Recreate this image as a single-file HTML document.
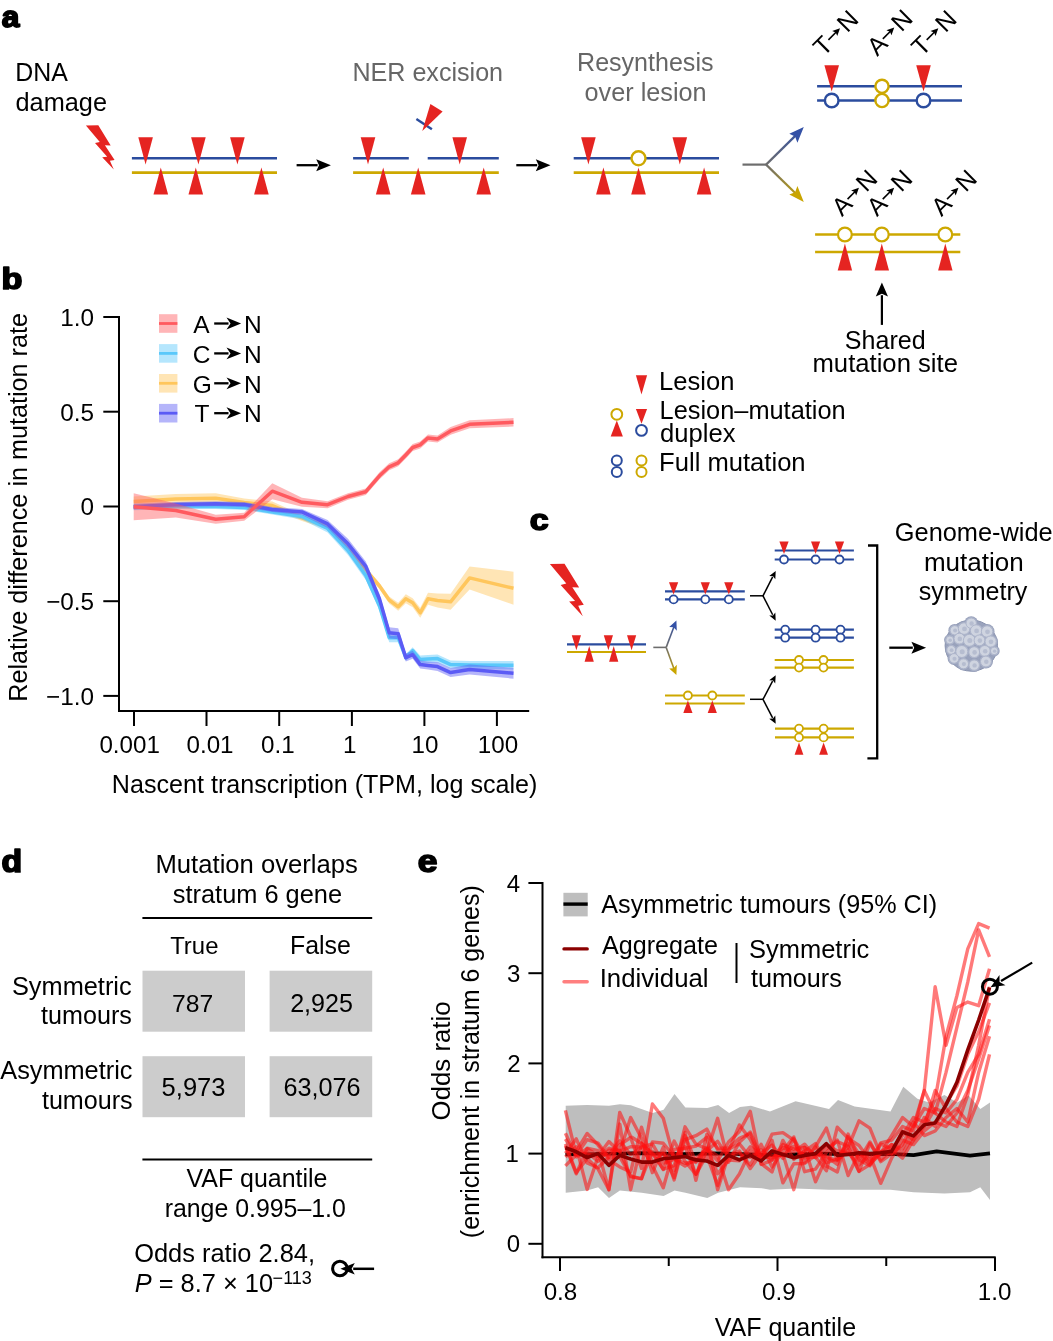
<!DOCTYPE html><html><head><meta charset="utf-8"><style>html,body{margin:0;padding:0;background:#fff;overflow:hidden}svg{display:block;will-change:transform}text{font-family:"Liberation Sans",sans-serif}</style></head><body>
<svg width="1053" height="1341" viewBox="0 0 1053 1341">
<defs><linearGradient id="gb" gradientUnits="userSpaceOnUse" x1="766" y1="164.6" x2="804" y2="127"><stop offset="0" stop-color="#6d6d6d"/><stop offset="1" stop-color="#2f4fa8"/></linearGradient><linearGradient id="gy" gradientUnits="userSpaceOnUse" x1="766" y1="164.6" x2="804" y2="201"><stop offset="0" stop-color="#6d6d6d"/><stop offset="1" stop-color="#c9a500"/></linearGradient><linearGradient id="gb2" gradientUnits="userSpaceOnUse" x1="666" y1="647" x2="676" y2="620"><stop offset="0" stop-color="#6d6d6d"/><stop offset="1" stop-color="#2f4fa8"/></linearGradient><linearGradient id="gy2" gradientUnits="userSpaceOnUse" x1="666" y1="647" x2="676" y2="675"><stop offset="0" stop-color="#6d6d6d"/><stop offset="1" stop-color="#c9a500"/></linearGradient></defs>
<rect width="1053" height="1341" fill="#fff"/>
<g transform="translate(1.63,27.35) scale(1,0.9572)"><text x="0" y="0" font-size="31.65" font-weight="bold" stroke="#000" stroke-width="1.9" stroke-linejoin="round">a</text></g>
<text x="15.26" y="80.7" font-size="24.91" fill="#000" >DNA</text>
<text x="15.54" y="110.6" font-size="25.31" fill="#000" >damage</text>
<polygon points="85.9,125.4 98.3,125.2 110.7,145.4 104.9,145.2 114.6,159.9 109.9,160.7 113.8,169.6 102.2,157.2 107.2,156.8 95,143.1 99.8,141.9" fill="#e52421"/>
<line x1="131.9" y1="158.3" x2="277" y2="158.3" stroke="#2b4c9e" stroke-width="2.6" stroke-linecap="butt" />
<line x1="131.9" y1="172.6" x2="277" y2="172.6" stroke="#cda800" stroke-width="2.6" stroke-linecap="butt" />
<polygon points="138.3,137.3 152.9,137.3 145.6,164.5" fill="#e52421"/>
<polygon points="191.1,137.3 205.7,137.3 198.4,164.5" fill="#e52421"/>
<polygon points="230.1,137.3 244.7,137.3 237.4,164.5" fill="#e52421"/>
<polygon points="160.8,167.5 168.1,194.6 153.5,194.6" fill="#e52421"/>
<polygon points="195.8,167.5 203.1,194.6 188.5,194.6" fill="#e52421"/>
<polygon points="261.4,167.5 268.7,194.6 254.1,194.6" fill="#e52421"/>
<line x1="296.6" y1="165.2" x2="317.6" y2="165.2" stroke="#000" stroke-width="2.3" stroke-linecap="butt" />
<polygon points="330.9,165.2 316.2,171.2 319,165.2 316.2,159.2" fill="#000" />
<line x1="353.1" y1="158.3" x2="408.8" y2="158.3" stroke="#2b4c9e" stroke-width="2.6" stroke-linecap="butt" />
<line x1="427.7" y1="158.3" x2="498.8" y2="158.3" stroke="#2b4c9e" stroke-width="2.6" stroke-linecap="butt" />
<line x1="353.1" y1="172.6" x2="498.8" y2="172.6" stroke="#cda800" stroke-width="2.6" stroke-linecap="butt" />
<polygon points="360.7,137.3 375.3,137.3 368,164.5" fill="#e52421"/>
<polygon points="452.4,137.3 467,137.3 459.7,164.5" fill="#e52421"/>
<polygon points="383.2,167.5 390.5,194.6 375.9,194.6" fill="#e52421"/>
<polygon points="418.2,167.5 425.5,194.6 410.9,194.6" fill="#e52421"/>
<polygon points="483.7,167.5 491,194.6 476.4,194.6" fill="#e52421"/>
<line x1="416.4" y1="119" x2="431.9" y2="129.2" stroke="#2b4c9e" stroke-width="2.4" stroke-linecap="butt" />
<polygon points="430.4,104.1 442.6,111.4 422.3,131" fill="#e52421"/>
<line x1="516.3" y1="165.2" x2="537.2" y2="165.2" stroke="#000" stroke-width="2.3" stroke-linecap="butt" />
<polygon points="550.5,165.2 535.8,171.2 538.6,165.2 535.8,159.2" fill="#000" />
<line x1="573.7" y1="158.3" x2="719" y2="158.3" stroke="#2b4c9e" stroke-width="2.6" stroke-linecap="butt" />
<line x1="573.7" y1="172.6" x2="719" y2="172.6" stroke="#cda800" stroke-width="2.6" stroke-linecap="butt" />
<polygon points="581.1,137.3 595.7,137.3 588.4,164.5" fill="#e52421"/>
<polygon points="672.5,137.3 687.1,137.3 679.8,164.5" fill="#e52421"/>
<polygon points="603.4,167.5 610.7,194.6 596.1,194.6" fill="#e52421"/>
<polygon points="638.5,167.5 645.8,194.6 631.2,194.6" fill="#e52421"/>
<polygon points="704.1,167.5 711.4,194.6 696.8,194.6" fill="#e52421"/>
<circle cx="638.5" cy="158.3" r="7" fill="#fff" stroke="#cda800" stroke-width="2.4"/>
<text x="352.44" y="81.2" font-size="25.1" fill="#666" >NER excision</text>
<text x="577.05" y="71.1" font-size="25.05" fill="#666" >Resynthesis</text>
<text x="584.54" y="100.7" font-size="25.24" fill="#666" >over lesion</text>
<line x1="742.5" y1="164.6" x2="766.8" y2="164.6" stroke="#6d6d6d" stroke-width="2.2" stroke-linecap="butt" />
<path d="M766.1,164.6 L796.5,134.6" stroke="url(#gb)" stroke-width="2.2" fill="none"/>
<polygon points="803.8,127 797.4,142.8 795.1,136.4 789.3,133.8" fill="#3451a6"/>
<path d="M766.1,164.6 L796.5,194.2" stroke="url(#gy)" stroke-width="2.2" fill="none"/>
<polygon points="803.8,201.9 789.3,194.5 795.1,192.3 797.4,186.1" fill="#c9a500"/>
<line x1="817.1" y1="86.3" x2="962" y2="86.3" stroke="#2b4c9e" stroke-width="2.6" stroke-linecap="butt" />
<line x1="817.1" y1="100.5" x2="962" y2="100.5" stroke="#2b4c9e" stroke-width="2.6" stroke-linecap="butt" />
<polygon points="824.4,65.3 839,65.3 831.7,91.5" fill="#e52421"/>
<circle cx="831.7" cy="100.5" r="6.8" fill="#fff" stroke="#2b4c9e" stroke-width="2.4"/>
<polygon points="916.2,65.3 930.8,65.3 923.5,91.5" fill="#e52421"/>
<circle cx="923.5" cy="100.5" r="6.8" fill="#fff" stroke="#2b4c9e" stroke-width="2.4"/>
<circle cx="882" cy="86.3" r="6.6" fill="#fff" stroke="#cda800" stroke-width="2.4"/>
<circle cx="882" cy="100.5" r="6.6" fill="#fff" stroke="#cda800" stroke-width="2.4"/>
<line x1="815.1" y1="234.5" x2="960.3" y2="234.5" stroke="#cda800" stroke-width="2.6" stroke-linecap="butt" />
<line x1="815.1" y1="252" x2="960.3" y2="252" stroke="#cda800" stroke-width="2.6" stroke-linecap="butt" />
<circle cx="844.9" cy="234.5" r="6.9" fill="#fff" stroke="#cda800" stroke-width="2.2"/>
<polygon points="844.9,243.6 852.1,270.4 837.7,270.4" fill="#e52421"/>
<circle cx="881.8" cy="234.5" r="6.9" fill="#fff" stroke="#cda800" stroke-width="2.2"/>
<polygon points="881.8,243.6 889,270.4 874.6,270.4" fill="#e52421"/>
<circle cx="945.3" cy="234.5" r="6.9" fill="#fff" stroke="#cda800" stroke-width="2.2"/>
<polygon points="945.3,243.6 952.5,270.4 938.1,270.4" fill="#e52421"/>
<g transform="translate(823.4,57.3) rotate(-45)">
<text x="0" y="0" font-size="25">T</text>
<line x1="15.9" y1="-8.8" x2="27.3" y2="-8.8" stroke="#000" stroke-width="1.6"/>
<polygon points="32.3,-8.8 24.8,-12.4 26.3,-8.8 24.8,-5.200000000000001" fill="#000"/>
<text x="33.6" y="0" font-size="25">N</text>
</g>
<g transform="translate(877.2,57) rotate(-45)">
<text x="0" y="0" font-size="25">A</text>
<line x1="16.8" y1="-8.8" x2="27.9" y2="-8.8" stroke="#000" stroke-width="1.6"/>
<polygon points="32.9,-8.8 25.4,-12.4 26.9,-8.8 25.4,-5.200000000000001" fill="#000"/>
<text x="34.3" y="0" font-size="25">N</text>
</g>
<g transform="translate(921.7,57.3) rotate(-45)">
<text x="0" y="0" font-size="25">T</text>
<line x1="15.9" y1="-8.8" x2="27.3" y2="-8.8" stroke="#000" stroke-width="1.6"/>
<polygon points="32.3,-8.8 24.8,-12.4 26.3,-8.8 24.8,-5.200000000000001" fill="#000"/>
<text x="33.6" y="0" font-size="25">N</text>
</g>
<g transform="translate(841.9,217.2) rotate(-45)">
<text x="0" y="0" font-size="25">A</text>
<line x1="16.8" y1="-8.8" x2="27.9" y2="-8.8" stroke="#000" stroke-width="1.6"/>
<polygon points="32.9,-8.8 25.4,-12.4 26.9,-8.8 25.4,-5.200000000000001" fill="#000"/>
<text x="34.3" y="0" font-size="25">N</text>
</g>
<g transform="translate(877.1,217.2) rotate(-45)">
<text x="0" y="0" font-size="25">A</text>
<line x1="16.8" y1="-8.8" x2="27.9" y2="-8.8" stroke="#000" stroke-width="1.6"/>
<polygon points="32.9,-8.8 25.4,-12.4 26.9,-8.8 25.4,-5.200000000000001" fill="#000"/>
<text x="34.3" y="0" font-size="25">N</text>
</g>
<g transform="translate(941.4,217.2) rotate(-45)">
<text x="0" y="0" font-size="25">A</text>
<line x1="16.8" y1="-8.8" x2="27.9" y2="-8.8" stroke="#000" stroke-width="1.6"/>
<polygon points="32.9,-8.8 25.4,-12.4 26.9,-8.8 25.4,-5.200000000000001" fill="#000"/>
<text x="34.3" y="0" font-size="25">N</text>
</g>
<line x1="881.9" y1="324.9" x2="881.9" y2="295.2" stroke="#000" stroke-width="2.2" stroke-linecap="butt" />
<polygon points="881.9,282.6 888,296.6 881.9,293.8 875.8,296.6" fill="#000" />
<text x="844.87" y="348.6" font-size="25.04" fill="#000" >Shared</text>
<text x="812.51" y="371.7" font-size="25.67" fill="#000" >mutation site</text>
<polygon points="635.9,375.3 647.1,375.3 641.5,394.6" fill="#e52421"/>
<text x="659.1" y="389.6" font-size="25.56" fill="#000" >Lesion</text>
<circle cx="616.8" cy="414.3" r="5.4" fill="#fff" stroke="#cda800" stroke-width="2.0"/>
<polygon points="616.8,420.5 622.9,436.5 610.7,436.5" fill="#e52421"/>
<polygon points="635.9,408.9 647.1,408.9 641.5,423.7" fill="#e52421"/>
<circle cx="641.5" cy="430.4" r="5.4" fill="#fff" stroke="#2b4c9e" stroke-width="2.0"/>
<text x="659.62" y="418.5" font-size="25.35" fill="#000" >Lesion–mutation</text>
<text x="660.12" y="442.3" font-size="25.6" fill="#000" >duplex</text>
<circle cx="616.8" cy="460.5" r="5" fill="#fff" stroke="#2b4c9e" stroke-width="2.0"/>
<circle cx="616.8" cy="472" r="5" fill="#fff" stroke="#2b4c9e" stroke-width="2.0"/>
<circle cx="641.5" cy="460.5" r="5" fill="#fff" stroke="#cda800" stroke-width="2.0"/>
<circle cx="641.5" cy="472" r="5" fill="#fff" stroke="#cda800" stroke-width="2.0"/>
<text x="659.1" y="470.8" font-size="25.6" fill="#000" >Full mutation</text>
<g transform="translate(1.42,289.05) scale(1,0.8857)"><text x="0" y="0" font-size="34.26" font-weight="bold" stroke="#000" stroke-width="1.9" stroke-linejoin="round">b</text></g>
<line x1="119" y1="316" x2="119" y2="712" stroke="#000" stroke-width="2" stroke-linecap="butt" />
<line x1="118" y1="711" x2="529.2" y2="711" stroke="#000" stroke-width="2" stroke-linecap="butt" />
<line x1="103.3" y1="317" x2="119" y2="317" stroke="#000" stroke-width="2" stroke-linecap="butt" />
<line x1="103.3" y1="411.7" x2="119" y2="411.7" stroke="#000" stroke-width="2" stroke-linecap="butt" />
<line x1="103.3" y1="506.5" x2="119" y2="506.5" stroke="#000" stroke-width="2" stroke-linecap="butt" />
<line x1="103.3" y1="601.2" x2="119" y2="601.2" stroke="#000" stroke-width="2" stroke-linecap="butt" />
<line x1="103.3" y1="695.9" x2="119" y2="695.9" stroke="#000" stroke-width="2" stroke-linecap="butt" />
<text x="60.25" y="325.9" font-size="24.3" fill="#000">1.0</text>
<text x="60.32" y="420.7" font-size="24.3" fill="#000">0.5</text>
<text x="80.51" y="515.4" font-size="24.3" fill="#000">0</text>
<text x="46.13" y="610.3" font-size="24.3" fill="#000">−0.5</text>
<text x="46.06" y="704.9" font-size="24.3" fill="#000">−1.0</text>
<line x1="134" y1="711" x2="134" y2="726" stroke="#000" stroke-width="2" stroke-linecap="butt" />
<line x1="206.5" y1="711" x2="206.5" y2="726" stroke="#000" stroke-width="2" stroke-linecap="butt" />
<line x1="279.2" y1="711" x2="279.2" y2="726" stroke="#000" stroke-width="2" stroke-linecap="butt" />
<line x1="351.9" y1="711" x2="351.9" y2="726" stroke="#000" stroke-width="2" stroke-linecap="butt" />
<line x1="424.4" y1="711" x2="424.4" y2="726" stroke="#000" stroke-width="2" stroke-linecap="butt" />
<line x1="496.9" y1="711" x2="496.9" y2="726" stroke="#000" stroke-width="2" stroke-linecap="butt" />
<text x="99.38" y="752.6" font-size="24.2" fill="#000">0.001</text>
<text x="186.46" y="752.6" font-size="24.2" fill="#000">0.01</text>
<text x="260.99" y="752.6" font-size="24.2" fill="#000">0.1</text>
<text x="342.88" y="752.6" font-size="24.2" fill="#000">1</text>
<text x="411.44" y="752.6" font-size="24.2" fill="#000">10</text>
<text x="477.76" y="752.6" font-size="24.2" fill="#000">100</text>
<text x="111.84" y="792.6" font-size="25.12" fill="#000" >Nascent transcription (TPM, log scale)</text>
<text x="0" y="0" font-size="25.2" text-anchor="middle" transform="translate(27,507.4) rotate(-90)">Relative difference in mutation rate</text>
<polygon points="133.7,496.5 175.8,494 215.7,493.3 244.2,498.4 272.3,501.5 302,514.9 327.6,523.5 348,545 365.8,567 379.5,583 389.2,596.5 398.2,602.8 405.8,594.3 412.7,598.3 420.2,607.8 428,592.8 437.5,593.5 450.6,593.8 469.6,566.4 513.5,571.8 513.5,604.8 469.6,589.4 450.6,609.8 437.5,607.5 428,604.8 420.2,617.8 412.7,607.3 405.8,603.3 398.2,610.8 389.2,603.5 379.5,589 365.8,573 348,551 327.6,529.5 302,520.9 272.3,509.5 244.2,506.4 215.7,503.3 175.8,504 133.7,506.5" fill="#ffc65c" fill-opacity="0.45"/>
<polyline points="133.7,501.5 175.8,499 215.7,498.3 244.2,502.4 272.3,505.5 302,517.9 327.6,526.5 348,548 365.8,570 379.5,586 389.2,600 398.2,606.8 405.8,598.8 412.7,602.8 420.2,612.8 428,598.8 437.5,600.5 450.6,601.8 469.6,577.9 513.5,588.3" fill="none" stroke="#ffc65c" stroke-width="3.5" stroke-linejoin="round"/>
<polygon points="133.7,504.2 175.8,504.1 215.7,503.9 244.2,504.9 272.3,509.5 302,513.4 327.6,524.5 348,546 365.8,571 379.5,601.5 389.2,633.2 398.2,633.2 405.8,654.1 412.7,647.2 420.2,655.6 428,655 437.5,654.6 450.6,660.6 469.6,661 513.5,661 513.5,669.4 469.6,669 450.6,668.6 437.5,662.6 428,663 420.2,663.6 412.7,654.2 405.8,661.1 398.2,642.2 389.2,642.2 379.5,610.5 365.8,580 348,555 327.6,532.5 302,519.4 272.3,514.5 244.2,509.9 215.7,508.9 175.8,509.1 133.7,510.2" fill="#5ac8fa" fill-opacity="0.45"/>
<polyline points="133.7,507.2 175.8,506.6 215.7,506.4 244.2,507.4 272.3,512 302,516.4 327.6,528.5 348,550.5 365.8,575.5 379.5,606 389.2,637.7 398.2,637.7 405.8,657.6 412.7,650.7 420.2,659.6 428,659 437.5,658.6 450.6,664.6 469.6,665 513.5,665.2" fill="none" stroke="#5ac8fa" stroke-width="3.5" stroke-linejoin="round"/>
<polygon points="133.7,503.7 175.8,501.9 215.7,501.2 244.2,501.9 272.3,507 302,508.9 327.6,519.9 348,538.8 365.8,561.4 379.5,594 389.2,627.2 398.2,628.2 405.8,653.6 412.7,650.7 420.2,660.6 428,661.5 437.5,662.1 450.6,668.1 469.6,664.6 513.5,667.7 513.5,678.7 469.6,674.6 450.6,677.1 437.5,671.1 428,669.5 420.2,668.6 412.7,658.7 405.8,661.6 398.2,639.2 389.2,638.2 379.5,604 365.8,571.4 348,548.8 327.6,527.9 302,514.9 272.3,512 244.2,506.9 215.7,506.2 175.8,506.9 133.7,509.7" fill="#5b5bf5" fill-opacity="0.45"/>
<polyline points="133.7,506.7 175.8,504.4 215.7,503.7 244.2,504.4 272.3,509.5 302,511.9 327.6,523.9 348,543.8 365.8,566.4 379.5,599 389.2,632.7 398.2,633.7 405.8,657.6 412.7,654.7 420.2,664.6 428,665.5 437.5,666.6 450.6,672.6 469.6,669.6 513.5,673.2" fill="none" stroke="#5b5bf5" stroke-width="3.5" stroke-linejoin="round"/>
<polygon points="133.7,493.2 175.8,503.5 215.7,514.7 244.2,512.7 272.3,483.2 302,497.8 327.6,501.2 348,493.3 365.8,488.5 379.5,472.3 389.2,463.3 398.2,459.3 405.8,451.5 412.7,444 420.2,441.4 428,434.4 437.5,435.4 450.6,427.1 469.6,420.3 513.5,418.1 513.5,426.5 469.6,428.3 450.6,434.7 437.5,442.4 428,441.4 420.2,448.4 412.7,451 405.8,458.5 398.2,466.3 389.2,470.3 379.5,479.3 365.8,494.9 348,499.7 327.6,508.2 302,506.8 272.3,499.2 244.2,520.7 215.7,523.7 175.8,517.5 133.7,520.2" fill="#ff5a5f" fill-opacity="0.45"/>
<polyline points="133.7,506.7 175.8,510.5 215.7,519.2 244.2,516.7 272.3,491.2 302,502.3 327.6,504.7 348,496.5 365.8,491.7 379.5,475.8 389.2,466.8 398.2,462.8 405.8,455 412.7,447.5 420.2,444.9 428,437.9 437.5,438.9 450.6,430.9 469.6,424.3 513.5,422.3" fill="none" stroke="#ff5a5f" stroke-width="3.5" stroke-linejoin="round"/>
<rect x="159" y="314.2" width="18.4" height="18.6" fill="#ff5a5f" fill-opacity="0.45"/>
<line x1="159" y1="323.5" x2="177.4" y2="323.5" stroke="#ff5a5f" stroke-width="2.8" stroke-linecap="butt" />
<text x="193.15" y="332.7" font-size="24.5" fill="#000">A</text>
<line x1="214.2" y1="323.5" x2="228.5" y2="323.5" stroke="#000" stroke-width="2.3" stroke-linecap="butt" />
<polygon points="241.1,323.5 226.5,329.4 230.5,323.5 226.5,317.6" fill="#000" />
<text x="243.99" y="332.7" font-size="24.5" fill="#000">N</text>
<rect x="159" y="344.1" width="18.4" height="18.6" fill="#5ac8fa" fill-opacity="0.45"/>
<line x1="159" y1="353.4" x2="177.4" y2="353.4" stroke="#5ac8fa" stroke-width="2.8" stroke-linecap="butt" />
<text x="192.68" y="362.6" font-size="24.5" fill="#000">C</text>
<line x1="214.2" y1="353.4" x2="228.5" y2="353.4" stroke="#000" stroke-width="2.3" stroke-linecap="butt" />
<polygon points="241.1,353.4 226.5,359.3 230.5,353.4 226.5,347.5" fill="#000" />
<text x="243.99" y="362.6" font-size="24.5" fill="#000">N</text>
<rect x="159" y="374" width="18.4" height="18.6" fill="#ffc65c" fill-opacity="0.45"/>
<line x1="159" y1="383.3" x2="177.4" y2="383.3" stroke="#ffc65c" stroke-width="2.8" stroke-linecap="butt" />
<text x="192.68" y="392.5" font-size="24.5" fill="#000">G</text>
<line x1="214.2" y1="383.3" x2="228.5" y2="383.3" stroke="#000" stroke-width="2.3" stroke-linecap="butt" />
<polygon points="241.1,383.3 226.5,389.2 230.5,383.3 226.5,377.4" fill="#000" />
<text x="243.99" y="392.5" font-size="24.5" fill="#000">N</text>
<rect x="159" y="403.9" width="18.4" height="18.6" fill="#5b5bf5" fill-opacity="0.45"/>
<line x1="159" y1="413.2" x2="177.4" y2="413.2" stroke="#5b5bf5" stroke-width="2.8" stroke-linecap="butt" />
<text x="194.46" y="422.4" font-size="24.5" fill="#000">T</text>
<line x1="214.2" y1="413.2" x2="228.5" y2="413.2" stroke="#000" stroke-width="2.3" stroke-linecap="butt" />
<polygon points="241.1,413.2 226.5,419.1 230.5,413.2 226.5,407.3" fill="#000" />
<text x="243.99" y="422.4" font-size="24.5" fill="#000">N</text>
<g transform="translate(529.72,530.15) scale(1,0.8798)"><text x="0" y="0" font-size="34.02" font-weight="bold" stroke="#000" stroke-width="1.9" stroke-linejoin="round">c</text></g>
<polygon points="549.9,564 564.53,563.76 579.16,587.6 572.32,587.36 583.77,604.71 578.22,605.65 582.82,616.16 569.13,601.52 575.03,601.05 560.64,584.89 566.3,583.47" fill="#e52421"/>
<line x1="567" y1="644.3" x2="646" y2="644.3" stroke="#2b4c9e" stroke-width="2.2" stroke-linecap="butt" />
<line x1="567" y1="652" x2="646" y2="652" stroke="#cda800" stroke-width="2.2" stroke-linecap="butt" />
<polygon points="571.8,635.3 581,635.3 576.4,650.3" fill="#e52421"/>
<polygon points="603.8,635.3 613,635.3 608.4,650.3" fill="#e52421"/>
<polygon points="627,635.3 636.2,635.3 631.6,650.3" fill="#e52421"/>
<polygon points="589.2,646 593.8,661.8 584.6,661.8" fill="#e52421"/>
<polygon points="613.7,646 618.3,661.8 609.1,661.8" fill="#e52421"/>
<line x1="653.3" y1="647.4" x2="666.2" y2="647.4" stroke="#6d6d6d" stroke-width="1.6" stroke-linecap="butt" />
<path d="M666.2,647.4 L674.6,625" stroke="url(#gb2)" stroke-width="1.6" fill="none"/>
<polygon points="676.4,620.4 676.8,630.8 673.6,627.3 669.2,627.1" fill="#3451a6"/>
<path d="M666.2,647.4 L674.6,670.5" stroke="url(#gy2)" stroke-width="1.6" fill="none"/>
<polygon points="676.4,675.1 669.2,668.4 673.6,668.2 676.8,664.7" fill="#c9a500"/>
<line x1="665" y1="591.4" x2="744.8" y2="591.4" stroke="#2b4c9e" stroke-width="2.2" stroke-linecap="butt" />
<line x1="665" y1="599.4" x2="744.8" y2="599.4" stroke="#2b4c9e" stroke-width="2.2" stroke-linecap="butt" />
<polygon points="669,582.3 678.2,582.3 673.6,594.5" fill="#e52421"/>
<circle cx="673.6" cy="599.4" r="4" fill="#fff" stroke="#2b4c9e" stroke-width="1.8"/>
<polygon points="700.7,582.3 709.9,582.3 705.3,594.5" fill="#e52421"/>
<circle cx="705.3" cy="599.4" r="4" fill="#fff" stroke="#2b4c9e" stroke-width="1.8"/>
<polygon points="724.2,582.3 733.4,582.3 728.8,594.5" fill="#e52421"/>
<circle cx="728.8" cy="599.4" r="4" fill="#fff" stroke="#2b4c9e" stroke-width="1.8"/>
<line x1="665" y1="695.5" x2="744.8" y2="695.5" stroke="#cda800" stroke-width="2.2" stroke-linecap="butt" />
<line x1="665" y1="703.5" x2="744.8" y2="703.5" stroke="#cda800" stroke-width="2.2" stroke-linecap="butt" />
<circle cx="687.9" cy="695.5" r="4" fill="#fff" stroke="#cda800" stroke-width="1.8"/>
<polygon points="687.9,700.5 692.5,713.1 683.3,713.1" fill="#e52421"/>
<circle cx="712.3" cy="695.5" r="4" fill="#fff" stroke="#cda800" stroke-width="1.8"/>
<polygon points="712.3,700.5 716.9,713.1 707.7,713.1" fill="#e52421"/>
<line x1="750" y1="595.8" x2="763" y2="595.8" stroke="#000" stroke-width="1.5" stroke-linecap="butt" />
<line x1="763" y1="595.8" x2="772.66" y2="576.87" stroke="#000" stroke-width="1.5" stroke-linecap="butt" />
<polygon points="775.7,570.9 775.32,579.13 773.02,576.16 769.26,576.04" fill="#000" />
<line x1="763" y1="595.8" x2="772.66" y2="614.73" stroke="#000" stroke-width="1.5" stroke-linecap="butt" />
<polygon points="775.7,620.7 769.26,615.56 773.02,615.44 775.32,612.47" fill="#000" />
<line x1="750" y1="699.3" x2="763" y2="699.3" stroke="#000" stroke-width="1.5" stroke-linecap="butt" />
<line x1="763" y1="699.3" x2="772.58" y2="681.13" stroke="#000" stroke-width="1.5" stroke-linecap="butt" />
<polygon points="775.7,675.2 775.21,683.42 772.95,680.42 769.2,680.25" fill="#000" />
<line x1="763" y1="699.3" x2="772.62" y2="717.85" stroke="#000" stroke-width="1.5" stroke-linecap="butt" />
<polygon points="775.7,723.8 769.23,718.71 772.98,718.56 775.27,715.58" fill="#000" />
<line x1="774.7" y1="550.5" x2="853.9" y2="550.5" stroke="#2b4c9e" stroke-width="2.2" stroke-linecap="butt" />
<line x1="774.7" y1="559.5" x2="853.9" y2="559.5" stroke="#2b4c9e" stroke-width="2.2" stroke-linecap="butt" />
<polygon points="779.4,541.6 788.6,541.6 784,554" fill="#e52421"/>
<circle cx="784" cy="559.5" r="4" fill="#fff" stroke="#2b4c9e" stroke-width="1.8"/>
<polygon points="811,541.6 820.2,541.6 815.6,554" fill="#e52421"/>
<circle cx="815.6" cy="559.5" r="4" fill="#fff" stroke="#2b4c9e" stroke-width="1.8"/>
<polygon points="834.9,541.6 844.1,541.6 839.5,554" fill="#e52421"/>
<circle cx="839.5" cy="559.5" r="4" fill="#fff" stroke="#2b4c9e" stroke-width="1.8"/>
<line x1="774.7" y1="629.7" x2="853.9" y2="629.7" stroke="#2b4c9e" stroke-width="2.2" stroke-linecap="butt" />
<line x1="774.7" y1="637.7" x2="853.9" y2="637.7" stroke="#2b4c9e" stroke-width="2.2" stroke-linecap="butt" />
<circle cx="785.2" cy="629.7" r="4" fill="#fff" stroke="#2b4c9e" stroke-width="1.8"/>
<circle cx="785.2" cy="637.7" r="4" fill="#fff" stroke="#2b4c9e" stroke-width="1.8"/>
<circle cx="815.6" cy="629.7" r="4" fill="#fff" stroke="#2b4c9e" stroke-width="1.8"/>
<circle cx="815.6" cy="637.7" r="4" fill="#fff" stroke="#2b4c9e" stroke-width="1.8"/>
<circle cx="840.5" cy="629.7" r="4" fill="#fff" stroke="#2b4c9e" stroke-width="1.8"/>
<circle cx="840.5" cy="637.7" r="4" fill="#fff" stroke="#2b4c9e" stroke-width="1.8"/>
<line x1="774.7" y1="660" x2="853.9" y2="660" stroke="#cda800" stroke-width="2.2" stroke-linecap="butt" />
<line x1="774.7" y1="667.6" x2="853.9" y2="667.6" stroke="#cda800" stroke-width="2.2" stroke-linecap="butt" />
<circle cx="799" cy="660" r="4" fill="#fff" stroke="#cda800" stroke-width="1.8"/>
<circle cx="799" cy="667.6" r="4" fill="#fff" stroke="#cda800" stroke-width="1.8"/>
<circle cx="823.5" cy="660" r="4" fill="#fff" stroke="#cda800" stroke-width="1.8"/>
<circle cx="823.5" cy="667.6" r="4" fill="#fff" stroke="#cda800" stroke-width="1.8"/>
<line x1="775" y1="728.6" x2="854" y2="728.6" stroke="#cda800" stroke-width="2.2" stroke-linecap="butt" />
<line x1="775" y1="737.4" x2="854" y2="737.4" stroke="#cda800" stroke-width="2.2" stroke-linecap="butt" />
<circle cx="799" cy="728.6" r="4" fill="#fff" stroke="#cda800" stroke-width="1.8"/>
<circle cx="799" cy="737.4" r="4" fill="#fff" stroke="#cda800" stroke-width="1.8"/>
<polygon points="799,742.5 803.4,754.8 794.6,754.8" fill="#e52421"/>
<circle cx="823.6" cy="728.6" r="4" fill="#fff" stroke="#cda800" stroke-width="1.8"/>
<circle cx="823.6" cy="737.4" r="4" fill="#fff" stroke="#cda800" stroke-width="1.8"/>
<polygon points="823.6,742.5 828,754.8 819.2,754.8" fill="#e52421"/>
<polyline points="868,545.5 877.2,545.5 877.2,758.3 867.4,758.3" fill="none" stroke="#000" stroke-width="2.3"/>
<line x1="889.3" y1="647.7" x2="912.8" y2="647.7" stroke="#000" stroke-width="2.3" stroke-linecap="butt" />
<polygon points="926.1,647.7 911.4,653.7 914.2,647.7 911.4,641.7" fill="#000" />
<text x="894.83" y="540.9" font-size="25.36" fill="#000" >Genome-wide</text>
<text x="923.88" y="570.8" font-size="26.02" fill="#000" >mutation</text>
<text x="918.82" y="600.4" font-size="25.05" fill="#000" >symmetry</text>
<g>
<ellipse cx="971.3" cy="645.6" rx="26.2" ry="25.6" fill="#9aa3bd" stroke="#8690ac" stroke-width="1"/>
<circle cx="954.7" cy="630.3" r="6.3" fill="#98a1bb"/>
<circle cx="964.1" cy="628.6" r="7.5" fill="#98a1bb"/>
<circle cx="971.2" cy="623.2" r="6.9" fill="#98a1bb"/>
<circle cx="976.2" cy="630.6" r="7.5" fill="#98a1bb"/>
<circle cx="987.1" cy="631.5" r="7.4" fill="#98a1bb"/>
<circle cx="949.8" cy="640" r="5.7" fill="#98a1bb"/>
<circle cx="959.4" cy="638.6" r="7.1" fill="#98a1bb"/>
<circle cx="969.4" cy="640.3" r="7.7" fill="#98a1bb"/>
<circle cx="979.5" cy="640.3" r="7.1" fill="#98a1bb"/>
<circle cx="990.6" cy="641.5" r="7.3" fill="#98a1bb"/>
<circle cx="951.2" cy="649.9" r="6.1" fill="#98a1bb"/>
<circle cx="954.1" cy="658.4" r="6.5" fill="#98a1bb"/>
<circle cx="961.8" cy="651.5" r="7.7" fill="#98a1bb"/>
<circle cx="974.2" cy="652.1" r="7.1" fill="#98a1bb"/>
<circle cx="984.8" cy="650.9" r="7.1" fill="#98a1bb"/>
<circle cx="994.2" cy="650.9" r="5.5" fill="#98a1bb"/>
<circle cx="963.5" cy="663.8" r="6.7" fill="#98a1bb"/>
<circle cx="974.2" cy="665.1" r="6.9" fill="#98a1bb"/>
<circle cx="985.9" cy="661.5" r="7.1" fill="#98a1bb"/>
<circle cx="954.7" cy="630.3" r="5.5" fill="#a9b1c8"/>
<circle cx="964.1" cy="628.6" r="6.7" fill="#a9b1c8"/>
<circle cx="971.2" cy="623.2" r="6.1" fill="#a9b1c8"/>
<circle cx="976.2" cy="630.6" r="6.7" fill="#a9b1c8"/>
<circle cx="987.1" cy="631.5" r="6.6" fill="#a9b1c8"/>
<circle cx="949.8" cy="640" r="4.9" fill="#a9b1c8"/>
<circle cx="959.4" cy="638.6" r="6.3" fill="#a9b1c8"/>
<circle cx="969.4" cy="640.3" r="6.9" fill="#a9b1c8"/>
<circle cx="979.5" cy="640.3" r="6.3" fill="#a9b1c8"/>
<circle cx="990.6" cy="641.5" r="6.5" fill="#a9b1c8"/>
<circle cx="951.2" cy="649.9" r="5.3" fill="#a9b1c8"/>
<circle cx="954.1" cy="658.4" r="5.7" fill="#a9b1c8"/>
<circle cx="961.8" cy="651.5" r="6.9" fill="#a9b1c8"/>
<circle cx="974.2" cy="652.1" r="6.3" fill="#a9b1c8"/>
<circle cx="984.8" cy="650.9" r="6.3" fill="#a9b1c8"/>
<circle cx="994.2" cy="650.9" r="4.7" fill="#a9b1c8"/>
<circle cx="963.5" cy="663.8" r="5.9" fill="#a9b1c8"/>
<circle cx="974.2" cy="665.1" r="6.1" fill="#a9b1c8"/>
<circle cx="985.9" cy="661.5" r="6.3" fill="#a9b1c8"/>
<circle cx="954.7" cy="630.3" r="4.6" fill="#cfd4e0" stroke="#aab2c8" stroke-width="0.9"/>
<circle cx="955.1" cy="630.6" r="1.98" fill="#b6bdd0"/>
<circle cx="964.1" cy="628.6" r="5.8" fill="#cfd4e0" stroke="#aab2c8" stroke-width="0.9"/>
<circle cx="964.5" cy="628.9" r="2.43" fill="#b6bdd0"/>
<circle cx="971.2" cy="623.2" r="5.2" fill="#cfd4e0" stroke="#aab2c8" stroke-width="0.9"/>
<circle cx="971.6" cy="623.5" r="2.2" fill="#b6bdd0"/>
<circle cx="976.2" cy="630.6" r="5.8" fill="#cfd4e0" stroke="#aab2c8" stroke-width="0.9"/>
<circle cx="976.6" cy="630.9" r="2.43" fill="#b6bdd0"/>
<circle cx="987.1" cy="631.5" r="5.7" fill="#cfd4e0" stroke="#aab2c8" stroke-width="0.9"/>
<circle cx="987.5" cy="631.8" r="2.39" fill="#b6bdd0"/>
<circle cx="949.8" cy="640" r="4" fill="#cfd4e0" stroke="#aab2c8" stroke-width="0.9"/>
<circle cx="950.2" cy="640.3" r="1.75" fill="#b6bdd0"/>
<circle cx="959.4" cy="638.6" r="5.4" fill="#cfd4e0" stroke="#aab2c8" stroke-width="0.9"/>
<circle cx="959.8" cy="638.9" r="2.28" fill="#b6bdd0"/>
<circle cx="969.4" cy="640.3" r="6" fill="#cfd4e0" stroke="#aab2c8" stroke-width="0.9"/>
<circle cx="969.8" cy="640.6" r="2.51" fill="#b6bdd0"/>
<circle cx="979.5" cy="640.3" r="5.4" fill="#cfd4e0" stroke="#aab2c8" stroke-width="0.9"/>
<circle cx="979.9" cy="640.6" r="2.28" fill="#b6bdd0"/>
<circle cx="990.6" cy="641.5" r="5.6" fill="#cfd4e0" stroke="#aab2c8" stroke-width="0.9"/>
<circle cx="991" cy="641.8" r="2.36" fill="#b6bdd0"/>
<circle cx="951.2" cy="649.9" r="4.4" fill="#cfd4e0" stroke="#aab2c8" stroke-width="0.9"/>
<circle cx="951.6" cy="650.2" r="1.9" fill="#b6bdd0"/>
<circle cx="954.1" cy="658.4" r="4.8" fill="#cfd4e0" stroke="#aab2c8" stroke-width="0.9"/>
<circle cx="954.5" cy="658.7" r="2.05" fill="#b6bdd0"/>
<circle cx="961.8" cy="651.5" r="6" fill="#cfd4e0" stroke="#aab2c8" stroke-width="0.9"/>
<circle cx="962.2" cy="651.8" r="2.51" fill="#b6bdd0"/>
<circle cx="974.2" cy="652.1" r="5.4" fill="#cfd4e0" stroke="#aab2c8" stroke-width="0.9"/>
<circle cx="974.6" cy="652.4" r="2.28" fill="#b6bdd0"/>
<circle cx="984.8" cy="650.9" r="5.4" fill="#cfd4e0" stroke="#aab2c8" stroke-width="0.9"/>
<circle cx="985.2" cy="651.2" r="2.28" fill="#b6bdd0"/>
<circle cx="994.2" cy="650.9" r="3.8" fill="#cfd4e0" stroke="#aab2c8" stroke-width="0.9"/>
<circle cx="994.6" cy="651.2" r="1.67" fill="#b6bdd0"/>
<circle cx="963.5" cy="663.8" r="5" fill="#cfd4e0" stroke="#aab2c8" stroke-width="0.9"/>
<circle cx="963.9" cy="664.1" r="2.13" fill="#b6bdd0"/>
<circle cx="974.2" cy="665.1" r="5.2" fill="#cfd4e0" stroke="#aab2c8" stroke-width="0.9"/>
<circle cx="974.6" cy="665.4" r="2.2" fill="#b6bdd0"/>
<circle cx="985.9" cy="661.5" r="5.4" fill="#cfd4e0" stroke="#aab2c8" stroke-width="0.9"/>
<circle cx="986.3" cy="661.8" r="2.28" fill="#b6bdd0"/>
</g>
<g transform="translate(1.57,872.34) scale(1,0.9156)"><text x="0" y="0" font-size="33.73" font-weight="bold" stroke="#000" stroke-width="1.9" stroke-linejoin="round">d</text></g>
<text x="155.5" y="873.2" font-size="25.65" fill="#000" >Mutation overlaps</text>
<text x="172.81" y="902.7" font-size="25.38" fill="#000" >stratum 6 gene</text>
<line x1="142.4" y1="917.9" x2="372.2" y2="917.9" stroke="#000" stroke-width="2" stroke-linecap="butt" />
<text x="170.17" y="954" font-size="23.91" fill="#000" >True</text>
<text x="289.96" y="954" font-size="24.92" fill="#000" >False</text>
<rect x="142.5" y="970.7" width="102.5" height="61" fill="#cccccc"/>
<rect x="142.5" y="1056.2" width="102.5" height="61" fill="#cccccc"/>
<rect x="269.6" y="970.7" width="102.6" height="61" fill="#cccccc"/>
<rect x="269.6" y="1056.2" width="102.6" height="61" fill="#cccccc"/>
<text x="172.04" y="1011.7" font-size="24.7" fill="#000" >787</text>
<text x="290.15" y="1011.9" font-size="25.09" fill="#000" >2,925</text>
<text x="161.58" y="1095.6" font-size="25.55" fill="#000" >5,973</text>
<text x="283.44" y="1096" font-size="25.23" fill="#000" >63,076</text>
<text x="11.96" y="995.1" font-size="25.35" fill="#000" >Symmetric</text>
<text x="41.12" y="1024.1" font-size="25.13" fill="#000" >tumours</text>
<text x="0.25" y="1078.7" font-size="25.32" fill="#000" >Asymmetric</text>
<text x="41.92" y="1109.1" font-size="25.13" fill="#000" >tumours</text>
<line x1="142.4" y1="1159.5" x2="372.2" y2="1159.5" stroke="#000" stroke-width="2" stroke-linecap="butt" />
<text x="186.6" y="1187" font-size="24.92" fill="#000" >VAF quantile</text>
<text x="164.66" y="1216.9" font-size="24.89" fill="#000" >range 0.995–1.0</text>
<text x="134.21" y="1262.2" font-size="25.41" fill="#000" >Odds ratio 2.84,</text>
<text x="134.72" y="1292" font-size="25.38"><tspan font-style="italic">P</tspan> = 8.7 × 10</text>
<text x="272.62" y="1283.6" font-size="18.02" fill="#000" >−113</text>
<circle cx="339.9" cy="1268.5" r="7.3" fill="none" stroke="#000" stroke-width="3.0"/>
<line x1="374.1" y1="1268.8" x2="353.2" y2="1268.8" stroke="#000" stroke-width="2.5" stroke-linecap="butt" />
<polygon points="340.4,1268.8 354.8,1263.05 351.6,1268.8 354.8,1274.55" fill="#000" />
<g transform="translate(417.67,872.35) scale(1,0.8608)"><text x="0" y="0" font-size="35.4" font-weight="bold" stroke="#000" stroke-width="1.9" stroke-linejoin="round">e</text></g>
<line x1="542.5" y1="882" x2="542.5" y2="1258.2" stroke="#000" stroke-width="2" stroke-linecap="butt" />
<line x1="541.5" y1="1257.2" x2="995.7" y2="1257.2" stroke="#000" stroke-width="2" stroke-linecap="butt" />
<line x1="528.4" y1="1243.8" x2="542.5" y2="1243.8" stroke="#000" stroke-width="2" stroke-linecap="butt" />
<text x="506.87" y="1252.4" font-size="24" fill="#000">0</text>
<line x1="528.4" y1="1153.6" x2="542.5" y2="1153.6" stroke="#000" stroke-width="2" stroke-linecap="butt" />
<text x="505.41" y="1162.2" font-size="24" fill="#000">1</text>
<line x1="528.4" y1="1063.4" x2="542.5" y2="1063.4" stroke="#000" stroke-width="2" stroke-linecap="butt" />
<text x="507.16" y="1072" font-size="24" fill="#000">2</text>
<line x1="528.4" y1="973.2" x2="542.5" y2="973.2" stroke="#000" stroke-width="2" stroke-linecap="butt" />
<text x="506.99" y="981.8" font-size="24" fill="#000">3</text>
<line x1="528.4" y1="883" x2="542.5" y2="883" stroke="#000" stroke-width="2" stroke-linecap="butt" />
<text x="506.65" y="891.6" font-size="24" fill="#000">4</text>
<line x1="560" y1="1257.2" x2="560" y2="1271" stroke="#000" stroke-width="2" stroke-linecap="butt" />
<line x1="777.5" y1="1257.2" x2="777.5" y2="1271" stroke="#000" stroke-width="2" stroke-linecap="butt" />
<line x1="995" y1="1257.2" x2="995" y2="1271" stroke="#000" stroke-width="2" stroke-linecap="butt" />
<text x="543.63" y="1299.6" font-size="24.2" fill="#000">0.8</text>
<text x="762.08" y="1299.6" font-size="24.2" fill="#000">0.9</text>
<text x="977.82" y="1299.6" font-size="24.2" fill="#000">1.0</text>
<line x1="668.75" y1="1257.2" x2="668.75" y2="1266" stroke="#000" stroke-width="2" stroke-linecap="butt" />
<line x1="886.25" y1="1257.2" x2="886.25" y2="1266" stroke="#000" stroke-width="2" stroke-linecap="butt" />
<text x="714.7" y="1335.7" font-size="25.02" fill="#000" >VAF quantile</text>
<text x="0" y="0" font-size="25.8" text-anchor="middle" transform="translate(450.2,1060.9) rotate(-90)">Odds ratio</text>
<text x="0" y="0" font-size="25" text-anchor="middle" transform="translate(479.3,1061.7) rotate(-90)">(enrichment in stratum 6 genes)</text>
<polygon points="565.7,1105.7 587.1,1104.9 609,1105.7 619.9,1104.2 630.8,1105.3 652.7,1112.9 663.6,1109.7 674.5,1093.9 685.4,1107.5 707.3,1107.9 718.2,1104.9 729.1,1112.9 740,1107 751,1105.7 770,1111.5 795.6,1101.3 829,1109 838,1100 854.6,1106.4 890.5,1111.5 903.3,1086.7 917.4,1098.7 929,1102.6 944.4,1094.9 957.2,1102.6 968.7,1095.4 980.3,1109 990,1102.6 990,1200 980.3,1187.2 970,1192.3 944.4,1193.6 913.6,1192.3 890.5,1189.7 854.6,1189.7 829,1189.7 795.6,1188.5 770,1189.7 761.9,1188.3 740,1187.2 718.2,1192.7 707.3,1198.1 685.4,1192.7 674.5,1190.5 663.6,1195.9 641.7,1192.7 619.9,1190.5 609,1198.1 598.1,1187.2 587.1,1190.5 565.7,1192.7" fill="#bebebe"/>
<polyline points="565.4,1154.5 600,1154 640,1153.2 680,1154.2 720,1153.4 770,1155.1 820,1153.6 860,1154.2 890.5,1153.8 913.6,1155.1 936.7,1151.3 970,1155.6 990,1153.3" fill="none" stroke="#000" stroke-width="3.7" stroke-linejoin="round"/>
<polyline points="565.4,1157.06 576.27,1146.68 587.15,1189.41 598.02,1156.49 608.9,1148.26 619.77,1151.09 630.65,1146.75 641.52,1146.85 652.4,1165.64 663.27,1187.71 674.15,1149.42 685.02,1148.27 695.9,1146.07 706.77,1137.4 717.65,1189.68 728.52,1155.04 739.4,1151.02 750.27,1168.53 761.15,1153.52 772.02,1145.08 782.9,1158.51 793.77,1138.56 804.65,1157.69 815.52,1156.94 826.4,1170.81 837.27,1127.24 848.15,1138.32 859.02,1145.5 869.9,1160.34 880.77,1143 891.65,1140.07 902.52,1126.54 913.4,1131.05 924.27,1090.46 935.15,986.73 946.02,1045.36 956.9,1007.48 967.77,1002.06 978.65,1005.67 989.52,968.69" fill="none" stroke="#ff1010" stroke-opacity="0.56" stroke-width="3.4" stroke-linejoin="round"/>
<polyline points="565.4,1148.15 576.27,1151.09 587.15,1133.47 598.02,1144.89 608.9,1159.75 619.77,1166.95 630.65,1172.01 641.52,1127.23 652.4,1163.09 663.27,1153.22 674.15,1177.77 685.02,1135.54 695.9,1162.5 706.77,1147.27 717.65,1173.74 728.52,1160.17 739.4,1160.76 750.27,1146.91 761.15,1154.75 772.02,1155.37 782.9,1155.11 793.77,1146.16 804.65,1156.53 815.52,1147.23 826.4,1166.08 837.27,1171.96 848.15,1134.09 859.02,1159.69 869.9,1165.8 880.77,1144.03 891.65,1149.09 902.52,1135.56 913.4,1117.52 924.27,1122.03 935.15,1099.48 946.02,1036.34 956.9,995.75 967.77,948.85 978.65,923.59 989.52,928.1" fill="none" stroke="#ff1010" stroke-opacity="0.56" stroke-width="3.4" stroke-linejoin="round"/>
<polyline points="565.4,1139.08 576.27,1155 587.15,1139.6 598.02,1143.1 608.9,1157.5 619.77,1156.99 630.65,1176.01 641.52,1178.83 652.4,1141.88 663.27,1143.22 674.15,1156.46 685.02,1146.61 695.9,1174.18 706.77,1150.82 717.65,1141.36 728.52,1157.41 739.4,1153.02 750.27,1164.97 761.15,1144.37 772.02,1167.1 782.9,1150.73 793.77,1136.95 804.65,1171.66 815.52,1169.17 826.4,1152.69 837.27,1139.94 848.15,1175.5 859.02,1152.61 869.9,1162.34 880.77,1152.06 891.65,1144.58 902.52,1149.09 913.4,1126.54 924.27,1108.5 935.15,1113.01 946.02,1072.42 956.9,1027.32 967.77,982.22 978.65,929.9 989.52,956.96" fill="none" stroke="#ff1010" stroke-opacity="0.56" stroke-width="3.4" stroke-linejoin="round"/>
<polyline points="565.4,1145.8 576.27,1173.83 587.15,1148.11 598.02,1150.56 608.9,1189.68 619.77,1112.35 630.65,1136.47 641.52,1143.5 652.4,1153.59 663.27,1169.03 674.15,1165.64 685.02,1132.49 695.9,1180.28 706.77,1134.57 717.65,1148.19 728.52,1148.05 739.4,1138.23 750.27,1133.48 761.15,1163.67 772.02,1171.87 782.9,1140.41 793.77,1159.45 804.65,1151.1 815.52,1143.6 826.4,1162.58 837.27,1159.02 848.15,1142.92 859.02,1160.37 869.9,1141.94 880.77,1161.6 891.65,1153.6 902.52,1131.05 913.4,1140.07 924.27,1117.52 935.15,1126.54 946.02,1103.99 956.9,1085.95 967.77,1054.38 978.65,1031.83 989.52,1002.97" fill="none" stroke="#ff1010" stroke-opacity="0.56" stroke-width="3.4" stroke-linejoin="round"/>
<polyline points="565.4,1133.19 576.27,1156.87 587.15,1152.34 598.02,1161.21 608.9,1150.09 619.77,1150.29 630.65,1176.88 641.52,1178.57 652.4,1151.35 663.27,1169.55 674.15,1141.12 685.02,1161.25 695.9,1174.32 706.77,1155.19 717.65,1185.53 728.52,1149.17 739.4,1143.79 750.27,1157.33 761.15,1149.66 772.02,1159.8 782.9,1144.59 793.77,1149.18 804.65,1147.5 815.52,1181.8 826.4,1157.62 837.27,1159.95 848.15,1147.26 859.02,1120.81 869.9,1128.08 880.77,1155.23 891.65,1144.58 902.52,1153.6 913.4,1135.56 924.27,1126.54 935.15,1108.5 946.02,1113.01 956.9,1099.48 967.77,1072.42 978.65,1054.38 989.52,1019.2" fill="none" stroke="#ff1010" stroke-opacity="0.56" stroke-width="3.4" stroke-linejoin="round"/>
<polyline points="565.4,1165.86 576.27,1154.81 587.15,1154.07 598.02,1156.24 608.9,1141.54 619.77,1152.22 630.65,1117.52 641.52,1138.18 652.4,1172.62 663.27,1147.1 674.15,1179.91 685.02,1139.62 695.9,1135.67 706.77,1129.12 717.65,1149.66 728.52,1151.12 739.4,1124.91 750.27,1139.56 761.15,1161.29 772.02,1140.22 782.9,1182.83 793.77,1163.72 804.65,1163.44 815.52,1155.28 826.4,1144.97 837.27,1150.77 848.15,1152.93 859.02,1164.78 869.9,1155.08 880.77,1183.3 891.65,1158.11 902.52,1140.07 913.4,1144.58 924.27,1131.05 935.15,1122.03 946.02,1126.54 956.9,1113.01 967.77,1090.46 978.65,1058.89 989.52,1025.52" fill="none" stroke="#ff1010" stroke-opacity="0.56" stroke-width="3.4" stroke-linejoin="round"/>
<polyline points="565.4,1153.2 576.27,1138.88 587.15,1163.02 598.02,1167.75 608.9,1156.94 619.77,1144.8 630.65,1137.49 641.52,1168.37 652.4,1103.99 663.27,1118.27 674.15,1158.87 685.02,1163.27 695.9,1161.27 706.77,1151.6 717.65,1118.35 728.52,1162.23 739.4,1142.22 750.27,1132.03 761.15,1157.17 772.02,1134.16 782.9,1132.62 793.77,1140.13 804.65,1162.58 815.52,1146.54 826.4,1128.03 837.27,1160.57 848.15,1149.73 859.02,1171.41 869.9,1164.66 880.77,1153.2 891.65,1135.56 902.52,1117.52 913.4,1126.54 924.27,1090.46 935.15,1113.01 946.02,1122.03 956.9,1126.54 967.77,1094.97 978.65,1045.36 989.52,986.73" fill="none" stroke="#ff1010" stroke-opacity="0.56" stroke-width="3.4" stroke-linejoin="round"/>
<polyline points="565.4,1143.88 576.27,1172.71 587.15,1158.46 598.02,1168.9 608.9,1189.68 619.77,1124.07 630.65,1189.68 641.52,1143.22 652.4,1154.7 663.27,1153.53 674.15,1170.35 685.02,1126.81 695.9,1144.11 706.77,1148.81 717.65,1155.96 728.52,1189.68 739.4,1173.95 750.27,1150.9 761.15,1156.99 772.02,1157.85 782.9,1154.09 793.77,1189.68 804.65,1147.5 815.52,1154.66 826.4,1156.44 837.27,1164.33 848.15,1136.54 859.02,1154.32 869.9,1164.63 880.77,1151.71 891.65,1153.6 902.52,1144.58 913.4,1122.03 924.27,1135.56 935.15,1131.05 946.02,1117.52 956.9,1108.5 967.77,1122.03 978.65,1072.42 989.52,1036.34" fill="none" stroke="#ff1010" stroke-opacity="0.56" stroke-width="3.4" stroke-linejoin="round"/>
<polyline points="565.4,1110.37 576.27,1155.06 587.15,1148.77 598.02,1155.85 608.9,1154.55 619.77,1140.86 630.65,1154.82 641.52,1147.1 652.4,1143.95 663.27,1163.11 674.15,1159.35 685.02,1166.14 695.9,1158.49 706.77,1148.78 717.65,1160.78 728.52,1142.01 739.4,1131.46 750.27,1111.4 761.15,1164.44 772.02,1160.4 782.9,1147.62 793.77,1151.73 804.65,1144.18 815.52,1157.63 826.4,1148.77 837.27,1141.44 848.15,1146.35 859.02,1171.27 869.9,1143.47 880.77,1160.17 891.65,1149.09 902.52,1158.11 913.4,1140.07 924.27,1126.54 935.15,1090.46 946.02,1108.5 956.9,1122.03 967.77,1126.54 978.65,1099.48 989.52,1054.38" fill="none" stroke="#ff1010" stroke-opacity="0.56" stroke-width="3.4" stroke-linejoin="round"/>
<polyline points="565.4,1147.74 576.27,1151.8 587.15,1157.66 598.02,1153.6 608.9,1165.33 619.77,1155.4 630.65,1159.01 641.52,1162.08 652.4,1162.08 663.27,1158.83 674.15,1157.66 685.02,1156.58 695.9,1159.91 706.77,1161 717.65,1165.33 728.52,1155.4 739.4,1159.91 750.27,1155.4 761.15,1161 772.02,1150.89 782.9,1154.5 793.77,1157.66 804.65,1155.4 815.52,1153.6 826.4,1143.68 837.27,1155.4 848.15,1154.5 859.02,1152.7 869.9,1153.6 880.77,1152.7 891.65,1151.35 902.52,1131.95 913.4,1135.92 924.27,1124.74 935.15,1122.93 946.02,1104.89 956.9,1082.34 967.77,1049.87 978.65,1020.1 989.52,987.63" fill="none" stroke="#8b0000" stroke-width="3.6" stroke-linejoin="round"/>
<circle cx="989.9" cy="986.7" r="7.5" fill="none" stroke="#000" stroke-width="3.0"/>
<line x1="1032.2" y1="962.6" x2="1001.02" y2="981.04" stroke="#000" stroke-width="2.2" stroke-linecap="butt" />
<polygon points="990.6,987.2 999.48,975.1 999.55,981.91 1005.48,985.25" fill="#000" />
<rect x="563.4" y="892.8" width="24.3" height="23.6" fill="#bebebe"/>
<line x1="563.4" y1="904.1" x2="587.7" y2="904.1" stroke="#000" stroke-width="3.4" stroke-linecap="butt" />
<text x="601.25" y="913.3" font-size="25.2" fill="#000" >Asymmetric tumours (95% CI)</text>
<line x1="564" y1="948.9" x2="587.2" y2="948.9" stroke="#8b0000" stroke-width="3.4" stroke-linecap="round" />
<line x1="564" y1="981.7" x2="587.2" y2="981.7" stroke="#ff7f7f" stroke-width="3.4" stroke-linecap="round" />
<text x="601.95" y="954.1" font-size="25.15" fill="#000" >Aggregate</text>
<text x="599.63" y="987.4" font-size="25.79" fill="#000" >Individual</text>
<line x1="736.5" y1="943" x2="736.5" y2="983" stroke="#000" stroke-width="2" stroke-linecap="butt" />
<text x="749.05" y="957.8" font-size="25.48" fill="#000" >Symmetric</text>
<text x="750.92" y="987.4" font-size="25.16" fill="#000" >tumours</text>
</svg></body></html>
